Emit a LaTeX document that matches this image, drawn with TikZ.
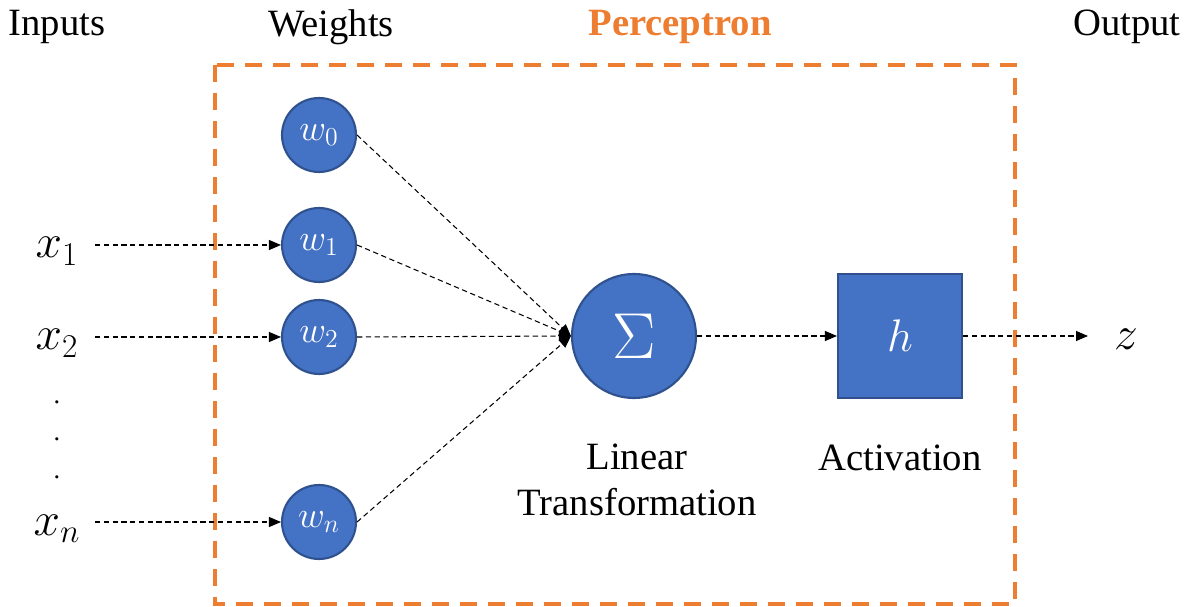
\documentclass[tikz,border=0pt]{standalone}
\usepackage{fix-cm}
\usepackage{fontspec}
\setmainfont{Liberation Serif}
\usetikzlibrary{arrows.meta}
\definecolor{pblue}{HTML}{4472C4}
\definecolor{pborder}{HTML}{2F528F}
\definecolor{porange}{HTML}{ED7D31}
\begin{document}
\begin{tikzpicture}[x=0.02cm,y=-0.02cm,
  lbl/.style={font=\fontsize{22}{26}\selectfont, inner sep=0pt, align=center},
  wnode/.style={circle, fill=pblue, draw=pborder, line width=1.2pt, minimum size=1.48cm, inner sep=0pt, text=white, font=\fontsize{21}{24}\selectfont},
  signode/.style={circle, fill=pblue, draw=pborder, line width=1.2pt, minimum size=2.48cm, inner sep=0pt, text=white, font=\fontsize{37}{40}\selectfont},
  hnode/.style={rectangle, fill=pblue, draw=pborder, line width=1.2pt, minimum size=2.48cm, inner sep=0pt, text=white, font=\fontsize{26}{30}\selectfont},
  inp/.style={inner sep=0pt, font=\fontsize{27}{30}\selectfont, anchor=base},
  dotn/.style={inner sep=0pt, font=\fontsize{15}{16}\selectfont, anchor=base},
  conn/.style={densely dashed, line width=0.6pt, -{Triangle[length=0.24cm,width=0.2cm]}},
  pbox/.style={draw=porange, line width=2.3pt, dash pattern=on 0.34cm off 0.22cm}
]
\useasboundingbox (0,0) rectangle (1193,607);
% perceptron box
\draw[pbox] (215,65) rectangle (1015,604);
% titles
\node[lbl] (tin) at (57,27) {Inputs};
\node[lbl] (tw) at (331,27) {Weights};
\node[lbl, text=porange, font=\fontsize{22}{26}\selectfont\bfseries] (tp) at (680,27) {Perceptron};
\node[lbl] (tout) at (1127,27) {Output};
% inputs
\node[inp] (x1) at (57,258) {$x_1$};
\node[inp] (x2) at (57,350) {$x_2$};
\node[inp] (xn) at (57,535) {$x_n$};
\node[dotn] (d1) at (57,404) {.};
\node[dotn] (d2) at (57,441) {.};
\node[dotn] (d3) at (57,479) {.};
% weights
\node[wnode] (w0) at (319,135) {$w_0$};
\node[wnode] (w1) at (319,245) {$w_1$};
\node[wnode] (w2) at (319,337) {$w_2$};
\node[wnode] (wn) at (319,522) {$w_n$};
% sum and activation
\node[signode] (sig) at (634,336) {$\Sigma$};
\node[hnode] (h) at (900,336) {$h$};
\node[inp] (z) at (1126,350) {$z$};
\coordinate (zin) at (1088,336);
% labels
\node[lbl] (lt) at (637,480) {Linear\\Transformation};
\node[lbl] (la) at (900,458) {Activation};
% connectors
\coordinate (x1o) at (95,245);
\coordinate (x2o) at (95,337);
\coordinate (xno) at (95,522);
\draw[conn] (x1o) -- (w1.west);
\draw[conn] (x2o) -- (w2.west);
\draw[conn] (xno) -- (wn.west);
\draw[conn] (w0.east) -- (sig.west);
\draw[conn] (w1.east) -- (sig.west);
\draw[conn] (w2.east) -- (sig.west);
\draw[conn] (wn.east) -- (sig.west);
\draw[conn] (sig.east) -- (h.west);
\draw[conn] (h.east) -- (zin);
\end{tikzpicture}
\end{document}
